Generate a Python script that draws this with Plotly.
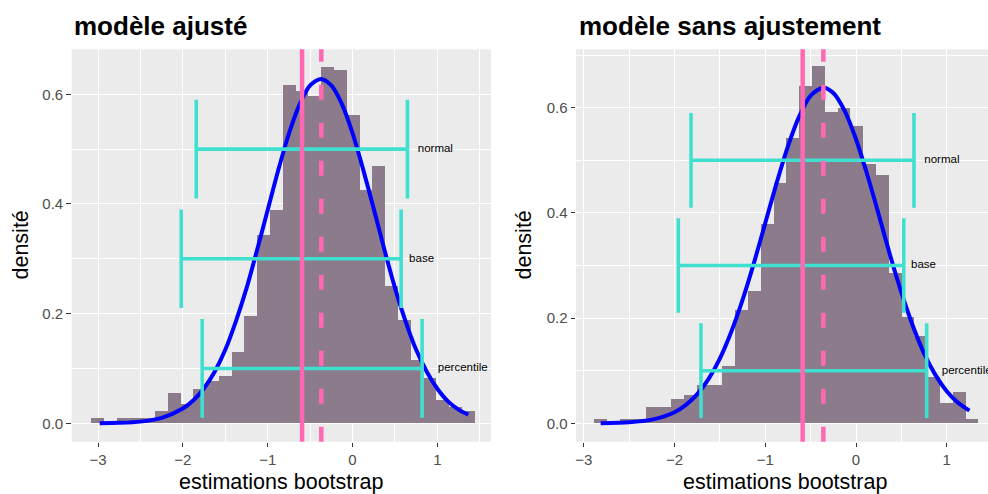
import plotly.graph_objects as go

# ---------------- data ----------------
# histogram (density) — 30 bins each
left_bin_start = -3.086
left_bin_width = 0.1507
left_density = [0.009, 0.0, 0.009, 0.009, 0.009, 0.021, 0.055, 0.035, 0.062, 0.076,
                0.085, 0.129, 0.196, 0.342, 0.389, 0.617, 0.605, 0.597, 0.650, 0.644,
                0.562, 0.424, 0.469, 0.249, 0.188, 0.115, 0.082, 0.042, 0.030, 0.021]

right_bin_start = -2.885
right_bin_width = 0.1411
right_density = [0.008, 0.0, 0.008, 0.008, 0.030, 0.030, 0.046, 0.053, 0.073, 0.073,
                 0.108, 0.215, 0.250, 0.379, 0.457, 0.542, 0.641, 0.678, 0.592, 0.599,
                 0.564, 0.492, 0.471, 0.286, 0.201, 0.165, 0.087, 0.038, 0.058, 0.008]

# normal density curves
left_curve_x = [-2.98, -2.75, -2.5, -2.25, -2.0, -1.875, -1.75, -1.625, -1.5, -1.375,
                -1.25, -1.125, -1.0, -0.875, -0.75, -0.625, -0.5, -0.374, -0.25, -0.125,
                0.0, 0.125, 0.25, 0.375, 0.5, 0.625, 0.75, 0.875, 1.0, 1.125, 1.25, 1.365]
left_curve_y = [0.0002, 0.0008, 0.003, 0.010, 0.027, 0.042, 0.064, 0.094, 0.134, 0.186,
                0.246, 0.316, 0.389, 0.462, 0.528, 0.581, 0.616, 0.628, 0.616, 0.582,
                0.529, 0.463, 0.391, 0.317, 0.247, 0.186, 0.134, 0.094, 0.063, 0.040, 0.025, 0.0157]

right_curve_x = [-2.815, -2.5, -2.25, -2.0, -1.875, -1.75, -1.625, -1.5, -1.375, -1.25,
                 -1.125, -1.0, -0.875, -0.75, -0.625, -0.5, -0.362, -0.25, -0.125, 0.0,
                 0.125, 0.25, 0.375, 0.5, 0.625, 0.75, 0.875, 1.0, 1.125, 1.25]
right_curve_y = [0.0003, 0.002, 0.007, 0.021, 0.035, 0.0555, 0.0845, 0.1235, 0.174, 0.235,
                 0.305, 0.381, 0.457, 0.527, 0.584, 0.623, 0.638, 0.628, 0.594, 0.540,
                 0.472, 0.397, 0.320, 0.249, 0.186, 0.133, 0.092, 0.061, 0.039, 0.024]

# vertical reference lines
left_vline_solid = -0.595
left_vline_dashed = -0.368
right_vline_solid = -0.588
right_vline_dashed = -0.36

# confidence intervals
ci_names = ["normal", "base", "percentile"]
ci_level = [0.5, 0.3, 0.1]
ci_cap = 0.09
left_ci_lo = [-1.842, -2.019, -1.772]
left_ci_hi = [0.647, 0.573, 0.820]
left_label_x = [0.769, 0.667, 1.005]
right_ci_lo = [-1.819, -1.959, -1.709]
right_ci_hi = [0.639, 0.526, 0.779]
right_label_x = [0.753, 0.606, 0.945]

panel_titles = ["modèle ajusté", "modèle sans ajustement"]
x_title = "estimations bootstrap"
y_title = "densité"
x_ticks = [-3, -2, -1, 0, 1]
y_ticks = [0.0, 0.2, 0.4, 0.6]

# ---------------- styling ----------------
FONT = "Liberation Sans, Arial, Helvetica, sans-serif"
BAR = "#8B7B8B"
PINK = "#FF69B4"
CYAN = "#40E0D0"
W, H = 988, 494

fig = go.Figure()


def add_panel(xa, ya, start, width, dens, cx, cy, lo, hi, lab_x):
    centers = [start + width * (i + 0.5) for i in range(len(dens))]
    fig.add_trace(go.Bar(x=centers, y=dens, width=[width] * len(dens),
                         marker=dict(color=BAR, line=dict(width=0)),
                         xaxis=xa, yaxis=ya, showlegend=False, hoverinfo="skip"))
    fig.add_trace(go.Scatter(x=cx, y=cy, mode="lines",
                             line=dict(color="#0000FF", width=4, shape="spline", smoothing=0.8),
                             xaxis=xa, yaxis=ya, showlegend=False, hoverinfo="skip"))
    xs, ys = [], []
    for l, h, lv in zip(lo, hi, ci_level):
        xs += [l, h, None, l, l, None, h, h, None]
        ys += [lv, lv, None, lv - ci_cap, lv + ci_cap, None, lv - ci_cap, lv + ci_cap, None]
    fig.add_trace(go.Scatter(x=xs, y=ys, mode="lines",
                             line=dict(color=CYAN, width=3.6),
                             xaxis=xa, yaxis=ya, showlegend=False, hoverinfo="skip"))
    fig.add_trace(go.Scatter(x=lab_x, y=ci_level, mode="text", text=ci_names,
                             textposition="middle right",
                             textfont=dict(family=FONT, size=11.5, color="black"),
                             cliponaxis=False,
                             xaxis=xa, yaxis=ya, showlegend=False, hoverinfo="skip"))


add_panel("x", "y", left_bin_start, left_bin_width, left_density,
          left_curve_x, left_curve_y, left_ci_lo, left_ci_hi, left_label_x)
add_panel("x2", "y2", right_bin_start, right_bin_width, right_density,
          right_curve_x, right_curve_y, right_ci_lo, right_ci_hi, right_label_x)

for xr, yr, xv, dash in [("x", "y", left_vline_solid, "solid"),
                         ("x", "y", left_vline_dashed, "15px,23px"),
                         ("x2", "y2", right_vline_solid, "solid"),
                         ("x2", "y2", right_vline_dashed, "15px,23px")]:
    fig.add_shape(type="line", xref=xr, yref=yr + " domain", x0=xv, x1=xv, y0=0, y1=1,
                  line=dict(color=PINK, width=4.5, dash=dash), layer="above")

ydom = [1 - 441.7 / H, 1 - 49.3 / H]
axis_common = dict(showgrid=True, gridcolor="white", gridwidth=1.2, zeroline=False,
                   showline=False, ticks="outside", ticklen=4.5, tickwidth=1.1,
                   tickcolor="#333333",
                   tickfont=dict(family=FONT, size=15, color="#4D4D4D"))
xminor = dict(dtick=0.5, tick0=0, showgrid=True, gridcolor="white", gridwidth=0.55, ticks="")
yminor = dict(dtick=0.1, tick0=0, showgrid=True, gridcolor="white", gridwidth=0.55, ticks="")

fig.update_layout(
    width=W, height=H, margin=dict(l=0, r=0, t=0, b=0),
    paper_bgcolor="white", plot_bgcolor="#EBEBEB",
    bargap=0, barmode="overlay",
    font=dict(family=FONT),
    xaxis=dict(domain=[71.7 / W, 491 / W], range=[-3.31, 1.632],
               tickvals=x_ticks, minor=xminor, **axis_common),
    yaxis=dict(domain=ydom, range=[-0.0336, 0.682], tickvals=y_ticks,
               tickformat=".1f", minor=yminor, **axis_common),
    xaxis2=dict(domain=[576 / W, 1.0], range=[-3.087, 1.455], anchor="y2",
                tickvals=x_ticks, minor=xminor, **axis_common),
    yaxis2=dict(domain=ydom, range=[-0.035, 0.711], anchor="x2", tickvals=y_ticks,
                tickformat=".1f", minor=yminor, **axis_common),
)

ann = []
for xpx, t in [(72, panel_titles[0]), (577, panel_titles[1])]:
    ann.append(dict(x=xpx / W, y=1 - 26 / H, xref="paper", yref="paper", text=f"<b>{t}</b>",
                    showarrow=False, xanchor="left", yanchor="middle",
                    font=dict(family=FONT, size=26, color="black")))
for xpx in [281.3, 785]:
    ann.append(dict(x=xpx / W, y=1 - 482 / H, xref="paper", yref="paper", text=x_title,
                    showarrow=False, xanchor="center", yanchor="middle",
                    font=dict(family=FONT, size=21.5, color="black")))
for xpx in [20, 523]:
    ann.append(dict(x=xpx / W, y=1 - 245.5 / H, xref="paper", yref="paper", text=y_title,
                    showarrow=False, xanchor="center", yanchor="middle", textangle=-90,
                    font=dict(family=FONT, size=21.5, color="black")))
fig.update_layout(annotations=ann)

fig.write_html("out.html", config={"displayModeBar": False},
               post_script="document.body.style.margin='0px';")
